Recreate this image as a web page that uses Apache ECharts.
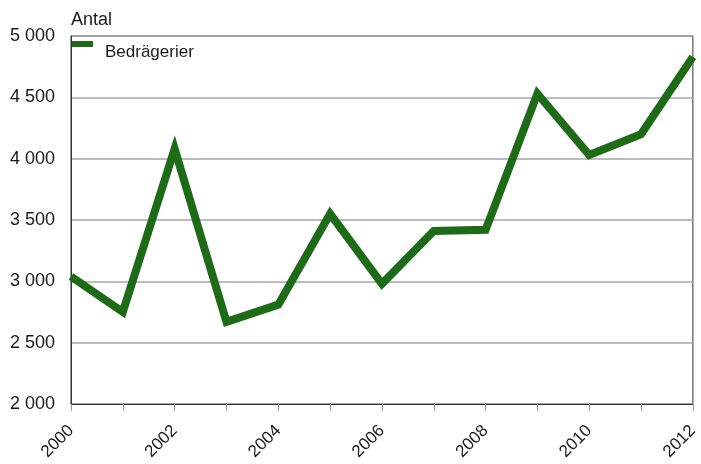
<!DOCTYPE html>
<html><head><meta charset="utf-8">
<script src="https://cdn.jsdelivr.net/npm/echarts@6/dist/echarts.min.js"></script>
<style>html,body{margin:0;padding:0;background:#fff}#c{width:701px;height:464px}</style>
</head><body><div id="c"></div>
<script>
const years = ['2000','2001','2002','2003','2004','2005','2006','2007','2008','2009','2010','2011','2012'];
const bedragerier = [3040, 2750, 4080, 2670, 2810, 3550, 2980, 3410, 3420, 4530, 4030, 4200, 4830];
const seriesName = 'Bedrägerier';
const yTitle = 'Antal';

const chart = echarts.init(document.getElementById('c'), null, {renderer:'canvas'});
const font = '"Liberation Sans", Arial, sans-serif';
chart.setOption({
  animation:false,
  backgroundColor:'#fff',
  textStyle:{fontFamily:font},
  title:{text:yTitle,left:71,top:11,padding:0,textStyle:{fontSize:18,fontWeight:'normal',color:'#1a1a1a',fontFamily:font}},
  legend:{data:[seriesName],left:72,top:41,padding:0,itemWidth:21,itemHeight:6,itemGap:10,
    icon:'rect',
    formatter:n=>'{t|'+n+'}',
    textStyle:{fontSize:17,color:'#1a1a1a',fontFamily:font,
      rich:{t:{fontSize:17,color:'#1a1a1a',fontFamily:font,padding:[16,0,0,7]}}}},
  grid:{left:71,right:6,top:36,bottom:60,show:true,borderColor:'#333',borderWidth:1,containLabel:false},
  xAxis:{type:'category',data:years,boundaryGap:false,
    axisLine:{lineStyle:{color:'#333',width:1}},
    axisTick:{show:true,interval:0,length:7,lineStyle:{color:'#999'}},
    axisLabel:{interval:1,rotate:45,fontSize:17,color:'#1a1a1a',margin:24,fontFamily:font},
    splitLine:{show:false}},
  yAxis:{type:'value',min:2000,max:5000,interval:500,
    axisLine:{show:true,lineStyle:{color:'#333',width:1}},
    axisTick:{show:false},
    axisLabel:{fontSize:18,color:'#1a1a1a',margin:16,fontFamily:font,padding:[5,0,0,0],
      formatter:v=>String(v).replace(/\B(?=(\d{3})+(?!\d))/g,' ')},
    splitLine:{lineStyle:{color:'#a6a6a6',width:1.5}}},
  series:[{name:seriesName,type:'line',data:bedragerier,symbol:'none',
    lineStyle:{color:'#1e6b17',width:8,join:'miter'},itemStyle:{color:'#1e6b17'}}]
});
</script></body></html>
